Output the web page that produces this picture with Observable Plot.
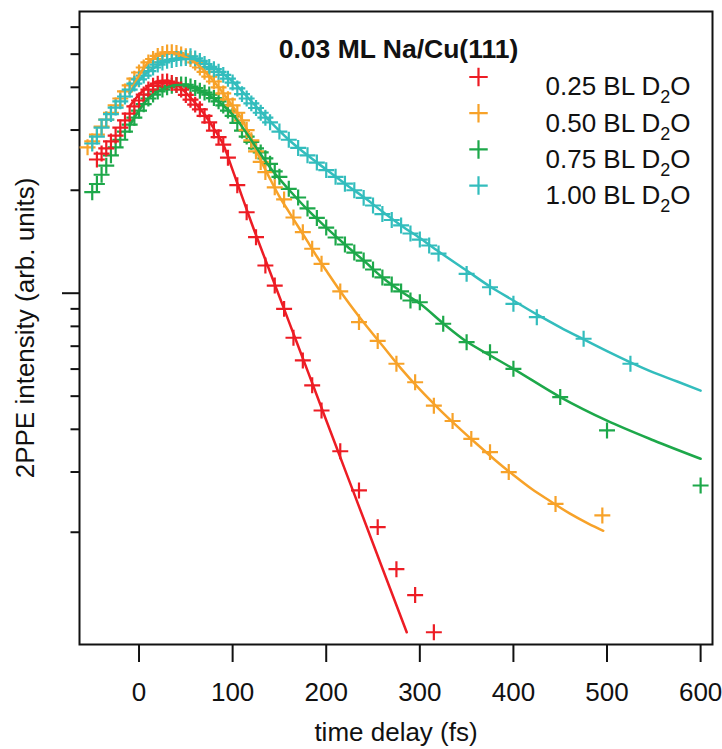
<!DOCTYPE html>
<html>
<head>
<meta charset="utf-8">
<script src="https://cdn.jsdelivr.net/npm/d3@7"></script>
<script src="https://cdn.jsdelivr.net/npm/@observablehq/plot@0.6"></script>
<style>
  html, body { margin: 0; padding: 0; background: #fff; }
  #chart { width: 722px; height: 749px; }
</style>
</head>
<body>
<div id="chart"></div>
<script>
// ---------- data ----------
const chartTitle = "0.03 ML Na/Cu(111)";
const seriesNames = ["0.25 BL D2O", "0.50 BL D2O", "0.75 BL D2O", "1.00 BL D2O"];
const seriesColors = ["#ED1C24", "#F7A229", "#1DA84A", "#33BDBD"];
const xLabel = "time delay (fs)";
const yLabel = "2PPE intensity (arb. units)";

const xTicks = [0, 100, 200, 300, 400, 500, 600];
const yMinorTicks = [0.2, 0.3, 0.4, 0.5, 0.6, 0.7, 0.8, 0.9, 2, 3, 4, 5, 6];
const yMajorTicks = [1];

// 0.25 BL D2O
const redT = [-45,-40,-35,-30,-25,-20,-15,-10,-5,0,5,10,15,20,25,30,35,40,45,50,55,60,65,70,75,80,85,90,95,
  105,115,125,135,145,155,165,175,185,195,215,235,255,275,295,315];
const redV = [2.46,2.56,2.65,2.78,2.89,3.05,3.20,3.35,3.52,3.66,3.81,3.94,4.04,4.10,4.15,4.16,4.12,4.06,3.94,3.80,
  3.68,3.56,3.45,3.30,3.16,2.99,2.86,2.72,2.49,
  2.07,1.725,1.458,1.205,1.053,0.900,0.741,0.636,0.538,0.454,0.345,0.265,0.207,0.156,0.131,0.102];
const redFitT = [-10,0,10,20,30,40,50,60,70,80,90,100,110,120,140,160,180,200,220,240,260,286];
const redFitV = [3.52,3.81,4.02,4.17,4.19,4.08,3.86,3.60,3.33,3.03,2.72,2.29,1.92,1.61,1.153,0.827,0.594,0.425,0.305,0.219,0.157,0.102];

// 0.50 BL D2O
const orangeT = [-55,-50,-45,-40,-35,-30,-25,-20,-15,-10,-5,0,5,10,15,20,25,30,35,40,45,50,55,60,65,70,75,80,85,90,
  95,100,105,110,115,120,125,130,135,
  145,155,165,175,185,195,215,235,255,275,295,315,335,355,375,395,445,495];
const orangeV = [2.67,2.78,2.91,3.07,3.22,3.37,3.54,3.71,3.89,4.05,4.24,4.42,4.57,4.73,4.84,4.94,5.01,5.06,5.07,5.04,
  4.99,4.93,4.84,4.73,4.57,4.44,4.30,4.16,4.00,3.84,3.69,3.54,3.37,3.20,3.00,2.80,2.60,2.42,2.26,
  2.04,1.88,1.665,1.508,1.349,1.219,1.012,0.823,0.725,0.622,0.549,0.469,0.423,0.375,0.343,0.300,0.242,0.224];
const orangeFitT = [-10,0,10,20,30,40,50,60,70,80,90,100,110,120,130,140,150,160,170,180,190,200,
  220,240,260,280,300,320,340,360,380,400,420,440,460,480,496];
const orangeFitV = [3.84,4.33,4.73,4.96,5.06,5.02,4.90,4.73,4.46,4.16,3.84,3.52,3.22,2.82,2.45,2.16,1.917,1.733,1.567,1.417,1.28,1.165,
  0.97,0.821,0.703,0.602,0.523,0.46,0.408,0.364,0.326,0.294,0.267,0.246,0.227,0.212,0.202];

// 0.75 BL D2O
const greenT = [-50,-45,-40,-35,-30,-25,-20,-15,-10,-5,0,5,10,15,20,25,30,35,40,45,50,55,60,65,70,75,80,85,90,95,
  100,105,110,115,120,125,130,135,140,145,150,
  160,170,180,190,200,210,220,230,240,250,260,270,280,290,300,325,350,375,400,450,500,600];
const greenV = [1.974,2.086,2.22,2.36,2.53,2.67,2.81,2.97,3.11,3.26,3.42,3.57,3.71,3.81,3.89,3.94,4.00,4.04,4.06,4.08,
  4.07,4.02,3.98,3.91,3.86,3.81,3.72,3.64,3.54,3.42,3.30,3.15,2.99,2.87,2.77,2.65,2.58,2.48,2.39,2.27,2.19,
  2.02,1.905,1.77,1.66,1.556,1.455,1.388,1.315,1.246,1.173,1.112,1.060,1.012,0.952,0.941,0.814,0.719,0.672,0.601,0.497,0.397,0.274];
const greenFitT = [-10,0,10,20,30,40,50,60,70,80,90,100,110,120,130,140,150,160,180,200,220,240,260,280,300,325,350,375,400,450,500,550,600];
const greenFitV = [3.09,3.42,3.71,3.89,4.00,4.06,4.06,3.98,3.86,3.71,3.54,3.33,3.07,2.80,2.55,2.33,2.16,2.01,1.755,1.556,
  1.388,1.246,1.112,1.012,0.933,0.816,0.722,0.658,0.601,0.497,0.424,0.371,0.328];

// 1.00 BL D2O
const cyanT = [-50,-45,-40,-35,-30,-25,-20,-15,-10,-5,0,5,10,15,20,25,30,35,40,45,50,55,60,65,70,75,80,85,90,95,
  100,105,110,115,120,125,130,135,140,
  150,160,170,180,190,200,210,220,230,240,250,260,270,280,290,300,310,320,350,375,400,425,475,525];
const cyanV = [2.74,2.87,3.05,3.22,3.34,3.49,3.64,3.76,3.94,4.10,4.22,4.33,4.46,4.57,4.66,4.73,4.78,4.81,4.84,4.86,
  4.87,4.93,4.86,4.78,4.68,4.59,4.52,4.44,4.35,4.24,4.13,3.97,3.82,3.71,3.59,3.48,3.37,3.26,3.16,
  2.97,2.81,2.66,2.53,2.41,2.29,2.19,2.09,2.00,1.90,1.805,1.704,1.637,1.578,1.495,1.435,1.379,1.306,
  1.139,1.041,0.931,0.851,0.736,0.622];
const cyanFitT = [-10,0,20,40,60,80,100,120,140,160,180,200,220,240,260,280,300,320,350,375,400,425,450,475,500,525,550,575,600];
const cyanFitV = [3.84,4.19,4.63,4.83,4.84,4.57,4.16,3.64,3.18,2.81,2.53,2.30,2.09,1.91,1.733,1.578,1.45,1.325,1.165,1.046,
  0.952,0.867,0.795,0.733,0.677,0.628,0.586,0.552,0.519];

// ---------- build tables ----------
const pointSets = [[redT, redV], [orangeT, orangeV], [greenT, greenV], [cyanT, cyanV]];
const fitSets = [[redFitT, redFitV], [orangeFitT, orangeFitV], [greenFitT, greenFitV], [cyanFitT, cyanFitV]];
const rows = (T, V) => T.map((t, i) => ({t, v: V[i]}));

const drawOrder = [2, 1, 3, 0]; // green, orange, cyan, red
const pointMarks = drawOrder.map(k => Plot.dot(rows(...pointSets[k]), {
  x: "t", y: "v", symbol: "plus", r: 5.2, stroke: seriesColors[k], strokeWidth: 2.2
}));
const lineMarks = [0, 1, 2, 3].map(k => Plot.line(rows(...fitSets[k]), {
  x: "t", y: "v", stroke: seriesColors[k], strokeWidth: 2.5, curve: "monotone-x"
}));

const legendMarks = seriesNames.flatMap((name, i) => [
  Plot.dot([name], {frameAnchor: "top-left", dx: 399, dy: 65.5 + i * 36.2, symbol: "plus", r: 6,
    stroke: seriesColors[i], strokeWidth: 2.2}),
  Plot.text([name], {frameAnchor: "top-left", dx: 466, dy: 65.5 + i * 36.2, text: d => d,
    textAnchor: "start", fontSize: 26, fill: "#111"})
]);

const chart = Plot.plot({
  width: 722,
  height: 749,
  marginLeft: 79,
  marginRight: 10,
  marginTop: 11,
  marginBottom: 105,
  style: {fontFamily: "'Liberation Sans', Arial, Helvetica, sans-serif", background: "#fff", color: "#111"},
  x: {domain: [-63.6, 612.7]},
  y: {type: "log", domain: [0.09393, 6.664]},
  marks: [
    Plot.frame({stroke: "#111", strokeWidth: 2}),
    Plot.axisX({ticks: xTicks, tickSize: 18, tickPadding: 20, strokeWidth: 2, fontSize: 26,
      tickFormat: d => String(d), label: null}),
    Plot.axisY({ticks: yMinorTicks, tickSize: 8.5, strokeWidth: 2, tickFormat: () => "", label: null}),
    Plot.axisY({ticks: yMajorTicks, tickSize: 17, strokeWidth: 2, tickFormat: () => "", label: null}),
    Plot.text([xLabel], {frameAnchor: "bottom", dy: 96, text: d => d, fontSize: 26, fill: "#111"}),
    Plot.text([yLabel], {frameAnchor: "left", dx: -54, rotate: -90, textAnchor: "middle", text: d => d,
      fontSize: 26, fill: "#111"}),
    ...pointMarks,
    ...lineMarks,
    Plot.text([chartTitle], {frameAnchor: "top", dx: 2.5, dy: 28, text: d => d, fontSize: 26.5,
      fontWeight: "bold", fill: "#111"}),
    ...legendMarks
  ]
});

// subscript the "2" of D2O in legend labels
chart.querySelectorAll("text").forEach(el => {
  const s = el.textContent;
  if (el.childElementCount === 0 && /D2O$/.test(s)) {
    el.textContent = "";
    const sel = d3.select(el);
    sel.append("tspan").text(s.slice(0, -2));
    sel.append("tspan").attr("dy", 8).attr("font-size", 18).text("2");
    sel.append("tspan").attr("dy", -8).text("O");
  }
});

document.getElementById("chart").appendChild(chart);
</script>
</body>
</html>
